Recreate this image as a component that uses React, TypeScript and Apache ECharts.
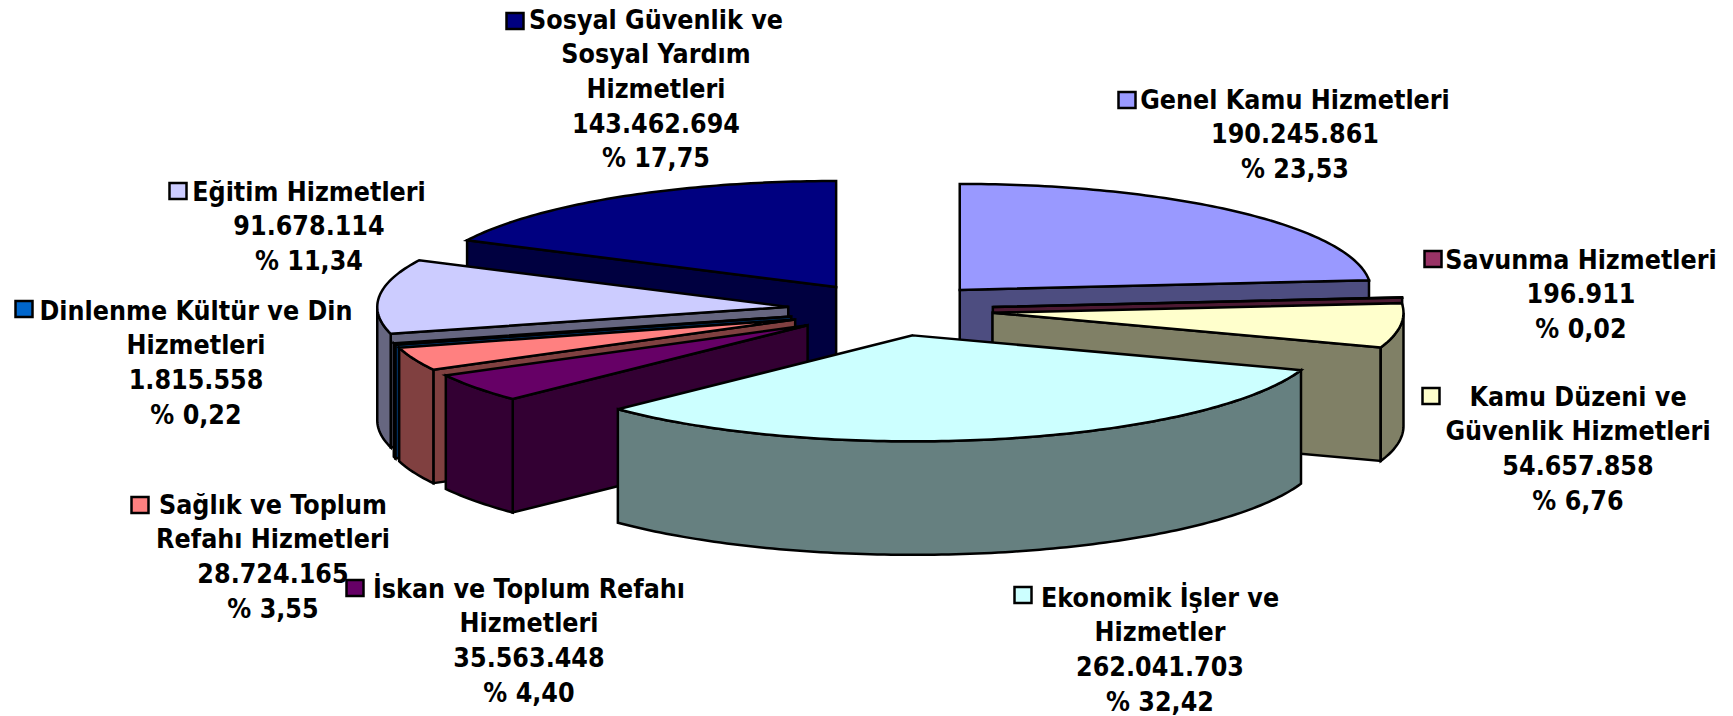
import React, { useEffect, useRef } from "react";
import * as echarts from "echarts";

const categories = [
  "Genel Kamu Hizmetleri",
  "Savunma Hizmetleri",
  "Kamu Düzeni ve Güvenlik Hizmetleri",
  "Ekonomik İşler ve Hizmetler",
  "İskan ve Toplum Refahı Hizmetleri",
  "Sağlık ve Toplum Refahı Hizmetleri",
  "Dinlenme Kültür ve Din Hizmetleri",
  "Eğitim Hizmetleri",
  "Sosyal Güvenlik ve Sosyal Yardım Hizmetleri",
];
const values = [190245861, 196911, 54657858, 262041703, 35563448, 28724165, 1815558, 91678114, 143462694];
const percents = ["% 23,53", "% 0,02", "% 6,76", "% 32,42", "% 4,40", "% 3,55", "% 0,22", "% 11,34", "% 17,75"];
const nameLines = [
  ["Genel Kamu Hizmetleri"],
  ["Savunma Hizmetleri"],
  ["Kamu Düzeni ve", "Güvenlik Hizmetleri"],
  ["Ekonomik İşler ve", "Hizmetler"],
  ["İskan ve Toplum Refahı", "Hizmetleri"],
  ["Sağlık ve Toplum", "Refahı Hizmetleri"],
  ["Dinlenme Kültür ve Din", "Hizmetleri"],
  ["Eğitim Hizmetleri"],
  ["Sosyal Güvenlik ve", "Sosyal Yardım", "Hizmetleri"],
];
const topColors = ["#9999FF", "#993366", "#FFFFCC", "#CCFFFF", "#660066", "#FF8080", "#0066CC", "#CCCCFF", "#000080"];
const sideColors = ["#4D4D80", "#4D1A33", "#808066", "#668080", "#330033", "#804040", "#003366", "#666680", "#000040"];
const drawOrder = [8, 0, 1, 2, 7, 6, 5, 4, 3];

// label layout: centre x, first-line y, swatch x, swatch y
const labelPos = [
  [1295, 100, 1127, 100],
  [1581, 260, 1433, 259],
  [1578, 397, 1431, 396],
  [1160, 598, 1023, 595],
  [529, 589, 355, 588],
  [273, 505, 140, 505],
  [196, 311, 24, 309],
  [309, 192, 178, 191],
  [656, 20, 515, 21],
];

const FONT = 'bold 26px "DejaVu Sans"';
const TEXT_SCALE = 0.92;
const LINE = 34.6;
const CX = 890.5, CY = 309.5, RX = 411, RY = 106, DEPTH = 113.5, EXPLODE = 0.25;
const total = values.reduce((a, b) => a + b, 0);
const RAD = Math.PI / 180;

function angles(i: number) {
  let sum = 0;
  for (let k = 0; k < i; k++) sum += values[k];
  return [(sum / total) * 360, ((sum + values[i]) / total) * 360];
}

function formatValue(v: number) {
  return String(v).replace(/\B(?=(\d{3})+$)/g, ".");
}

function renderItem(params: any) {
  const i = drawOrder[params.dataIndex];
  const [a0, a1] = angles(i);
  const mid = ((a0 + a1) / 2) * RAD;
  const ax = CX + EXPLODE * RX * Math.sin(mid);
  const ay = CY - EXPLODE * RY * Math.cos(mid);
  const pt = (deg: number, dy = 0) => [ax + RX * Math.sin(deg * RAD), ay - RY * Math.cos(deg * RAD) + dy];
  const arc = (from: number, to: number, dy = 0) => {
    const pts: number[][] = [];
    const n = Math.max(1, Math.ceil(Math.abs(to - from)));
    for (let k = 0; k <= n; k++) pts.push(pt(from + ((to - from) * k) / n, dy));
    return pts;
  };
  const side = { fill: sideColors[i], stroke: "#000", lineWidth: 2.5, lineJoin: "miter" };
  const children: any[] = [];
  const poly = (points: number[][], style: any) => ({ type: "polygon", shape: { points }, style });

  if (Math.sin(a0 * RAD) < 0) {
    children.push(poly([[ax, ay], pt(a0), pt(a0, DEPTH), [ax, ay + DEPTH]], side));
  }
  if (Math.sin(a1 * RAD) > 0) {
    children.push(poly([[ax, ay], pt(a1), pt(a1, DEPTH), [ax, ay + DEPTH]], side));
  }
  const from = Math.max(a0, 90), to = Math.min(a1, 270);
  if (to > from) {
    children.push(poly([...arc(from, to), ...arc(to, from, DEPTH)], side));
  }
  children.push(poly([[ax, ay], ...arc(a0, a1)], { fill: topColors[i], stroke: "#000", lineWidth: 2.5, lineJoin: "miter" }));
  return { type: "group", children };
}

function labelGraphics() {
  const out: any[] = [];
  categories.forEach((_, i) => {
    const [cx, y, sx, sy] = labelPos[i];
    const lines = [...nameLines[i], formatValue(values[i]), percents[i]];
    out.push({
      type: "rect",
      shape: { x: sx - 8.5, y: sy - 8, width: 17, height: 16 },
      style: { fill: topColors[i], stroke: "#000", lineWidth: 2.5 },
      z: 20,
    });
    lines.forEach((t, k) => {
      out.push({
        type: "text",
        x: cx,
        y: y + k * LINE,
        scaleX: TEXT_SCALE,
        style: { text: t, font: FONT, fill: "#000", textAlign: "center", textVerticalAlign: "middle" },
        z: 10,
      });
    });
  });
  return out;
}

export default function App() {
  const ref = useRef<HTMLDivElement>(null);
  useEffect(() => {
    document.body.style.margin = "0";
    document.body.style.background = "#fff";
    const chart = echarts.init(ref.current!, undefined, { renderer: "svg" });
    chart.setOption({
      animation: false,
      backgroundColor: "#fff",
      graphic: { elements: labelGraphics() },
      series: [
        {
          type: "custom",
          coordinateSystem: "none",
          silent: true,
          renderItem,
          data: drawOrder.map((i) => ({ name: categories[i], value: values[i] })),
        },
      ],
    });
    return () => chart.dispose();
  }, []);
  return <div ref={ref} style={{ width: 1733, height: 716 }} />;
}
